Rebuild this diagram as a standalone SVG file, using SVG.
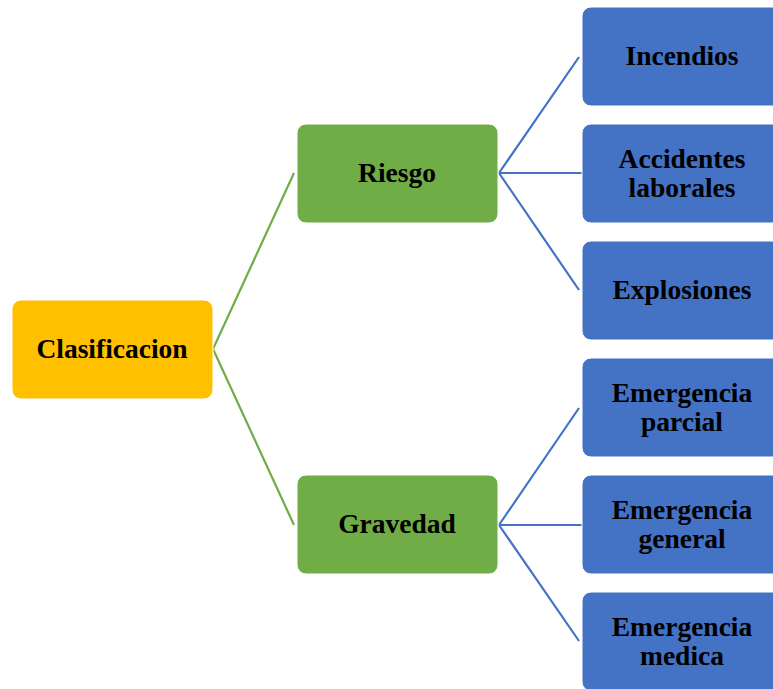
<svg xmlns="http://www.w3.org/2000/svg" width="773" height="689" viewBox="0 0 773 689">
  <style>
    .box { stroke: #ffffff; stroke-width: 1; }
    .root { fill: #FFC000; }
    .mid { fill: #70AD47; }
    .leaf { fill: #4472C4; }
    .lbl { font-family: "Liberation Serif", "Times New Roman", serif; font-weight: bold; font-size: 27.5px; fill: #000000; text-anchor: middle; }
    .g-line { stroke: #70AD47; stroke-width: 2.2; fill: none; }
    .b-line { stroke: #4472C4; stroke-width: 2.2; fill: none; }
  </style>
  <rect width="773" height="689" fill="#ffffff"/>

  <!-- connectors -->
  <g id="connectors">
    <polyline class="g-line" points="294,173 213,349 294,525"/>
    <line class="b-line" x1="499" y1="173" x2="579" y2="57"/>
    <line class="b-line" x1="499" y1="173" x2="582" y2="173"/>
    <line class="b-line" x1="499" y1="173" x2="579" y2="290"/>
    <line class="b-line" x1="499" y1="525" x2="579" y2="408"/>
    <line class="b-line" x1="499" y1="525" x2="582" y2="525"/>
    <line class="b-line" x1="499" y1="525" x2="579" y2="641"/>
  </g>

  <g id="clasificacion">
    <rect class="box root" x="12" y="300" width="201" height="99" rx="9"/>
    <text class="lbl" x="112" y="358">Clasificacion</text>
  </g>

  <g id="riesgo">
    <rect class="box mid" x="297" y="124" width="201" height="99" rx="9"/>
    <text class="lbl" x="397" y="182">Riesgo</text>
  </g>

  <g id="gravedad">
    <rect class="box mid" x="297" y="475" width="201" height="99" rx="9"/>
    <text class="lbl" x="397" y="533">Gravedad</text>
  </g>

  <g id="incendios">
    <rect class="box leaf" x="582" y="7" width="201" height="99" rx="9"/>
    <text class="lbl" x="682" y="65">Incendios</text>
  </g>

  <g id="accidentes">
    <rect class="box leaf" x="582" y="124" width="201" height="99" rx="9"/>
    <text class="lbl" x="682" y="168">Accidentes</text>
    <text class="lbl" x="682" y="197">laborales</text>
  </g>

  <g id="explosiones">
    <rect class="box leaf" x="582" y="241" width="201" height="99" rx="9"/>
    <text class="lbl" x="682" y="299">Explosiones</text>
  </g>

  <g id="emergencia-parcial">
    <rect class="box leaf" x="582" y="358" width="201" height="99" rx="9"/>
    <text class="lbl" x="682" y="402">Emergencia</text>
    <text class="lbl" x="682" y="431">parcial</text>
  </g>

  <g id="emergencia-general">
    <rect class="box leaf" x="582" y="475" width="201" height="99" rx="9"/>
    <text class="lbl" x="682" y="519">Emergencia</text>
    <text class="lbl" x="682" y="548">general</text>
  </g>

  <g id="emergencia-medica">
    <rect class="box leaf" x="582" y="592" width="201" height="99" rx="9"/>
    <text class="lbl" x="682" y="636">Emergencia</text>
    <text class="lbl" x="682" y="665">medica</text>
  </g>
</svg>
